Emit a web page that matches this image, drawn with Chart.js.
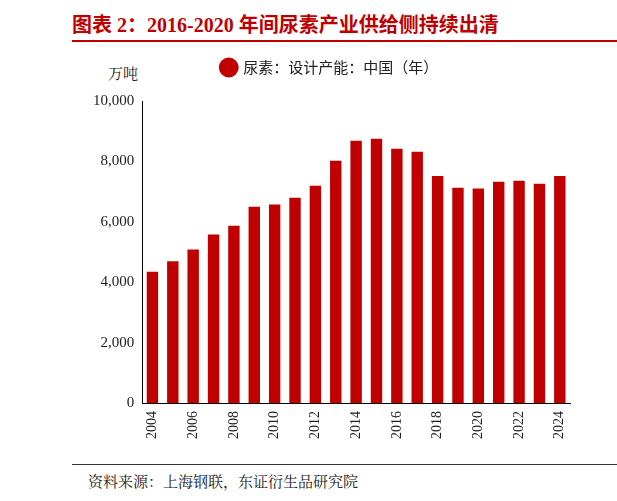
<!DOCTYPE html>
<html><head><meta charset="utf-8">
<script src="https://cdn.jsdelivr.net/npm/chart.js@4"></script>
<style>
body{margin:0;width:617px;height:501px;background:#fff;position:relative;overflow:hidden;font-family:"Noto Serif CJK SC","Noto Sans CJK SC",serif}
#title{position:absolute;left:72px;top:9px;font-size:20px;font-weight:bold;color:#c00000;font-family:"Liberation Serif","Noto Sans CJK SC",serif}
#tl{position:absolute;left:72px;top:40px;width:545px;height:2px;background:#c00000}
#unit{position:absolute;left:108px;top:62px;font-size:15px;color:#222}
#bl{position:absolute;left:72px;top:464px;width:545px;height:1px;background:#333}
#src{position:absolute;left:88px;top:470px;font-size:15px;color:#222}
#wrap{position:absolute;left:60px;top:50px;width:520px;height:392px}
</style></head><body>
<div id="title">图表 2：2016-2020 年间尿素产业供给侧持续出清</div>
<div id="tl"></div>
<div id="unit">万吨</div>
<div id="wrap"><canvas id="c"></canvas></div>
<div id="bl"></div>
<div id="src">资料来源：上海钢联，东证衍生品研究院</div>
<script>
const years=["2004","2005","2006","2007","2008","2009","2010","2011","2012","2013","2014","2015","2016","2017","2018","2019","2020","2021","2022","2023","2024"];
const capacity=[4350,4690,5080,5580,5870,6500,6570,6800,7190,8020,8680,8750,8420,8320,7520,7130,7100,7330,7360,7260,7520];
const seriesName="尿素：设计产能：中国（年）";
const serif="'Liberation Serif','DejaVu Serif',serif";
const legendGap={id:'legendGap',beforeInit(chart){const f=chart.legend.fit;chart.legend.fit=function(){f.call(this);this.height+=16;};}};
new Chart(document.getElementById('c'),{
type:'bar',
data:{labels:years,datasets:[{label:seriesName,data:capacity,backgroundColor:'#c00000',barPercentage:0.56,categoryPercentage:1}]},
plugins:[legendGap],
options:{responsive:true,maintainAspectRatio:false,animation:false,
layout:{padding:{left:30,right:10}},
plugins:{legend:{labels:{usePointStyle:true,pointStyle:'circle',boxWidth:14,boxHeight:14,color:'#222',font:{size:15,family:"'Noto Sans CJK SC',sans-serif"}}},tooltip:{enabled:false}},
scales:{
x:{grid:{display:false,drawTicks:true,tickLength:5,color:'#000'},border:{color:'#000'},
ticks:{autoSkip:false,maxRotation:90,minRotation:90,color:'#222',font:{size:14,family:serif},
callback:function(v,i){return i%2===0?years[i]:'';}}},
y:{min:0,max:10000,grid:{display:false,drawTicks:true,tickLength:5,color:'#000'},border:{color:'#000'},
ticks:{stepSize:2000,color:'#222',font:{size:15,family:serif},callback:v=>v.toLocaleString('en-US')}}
}}});
</script>
</body></html>
